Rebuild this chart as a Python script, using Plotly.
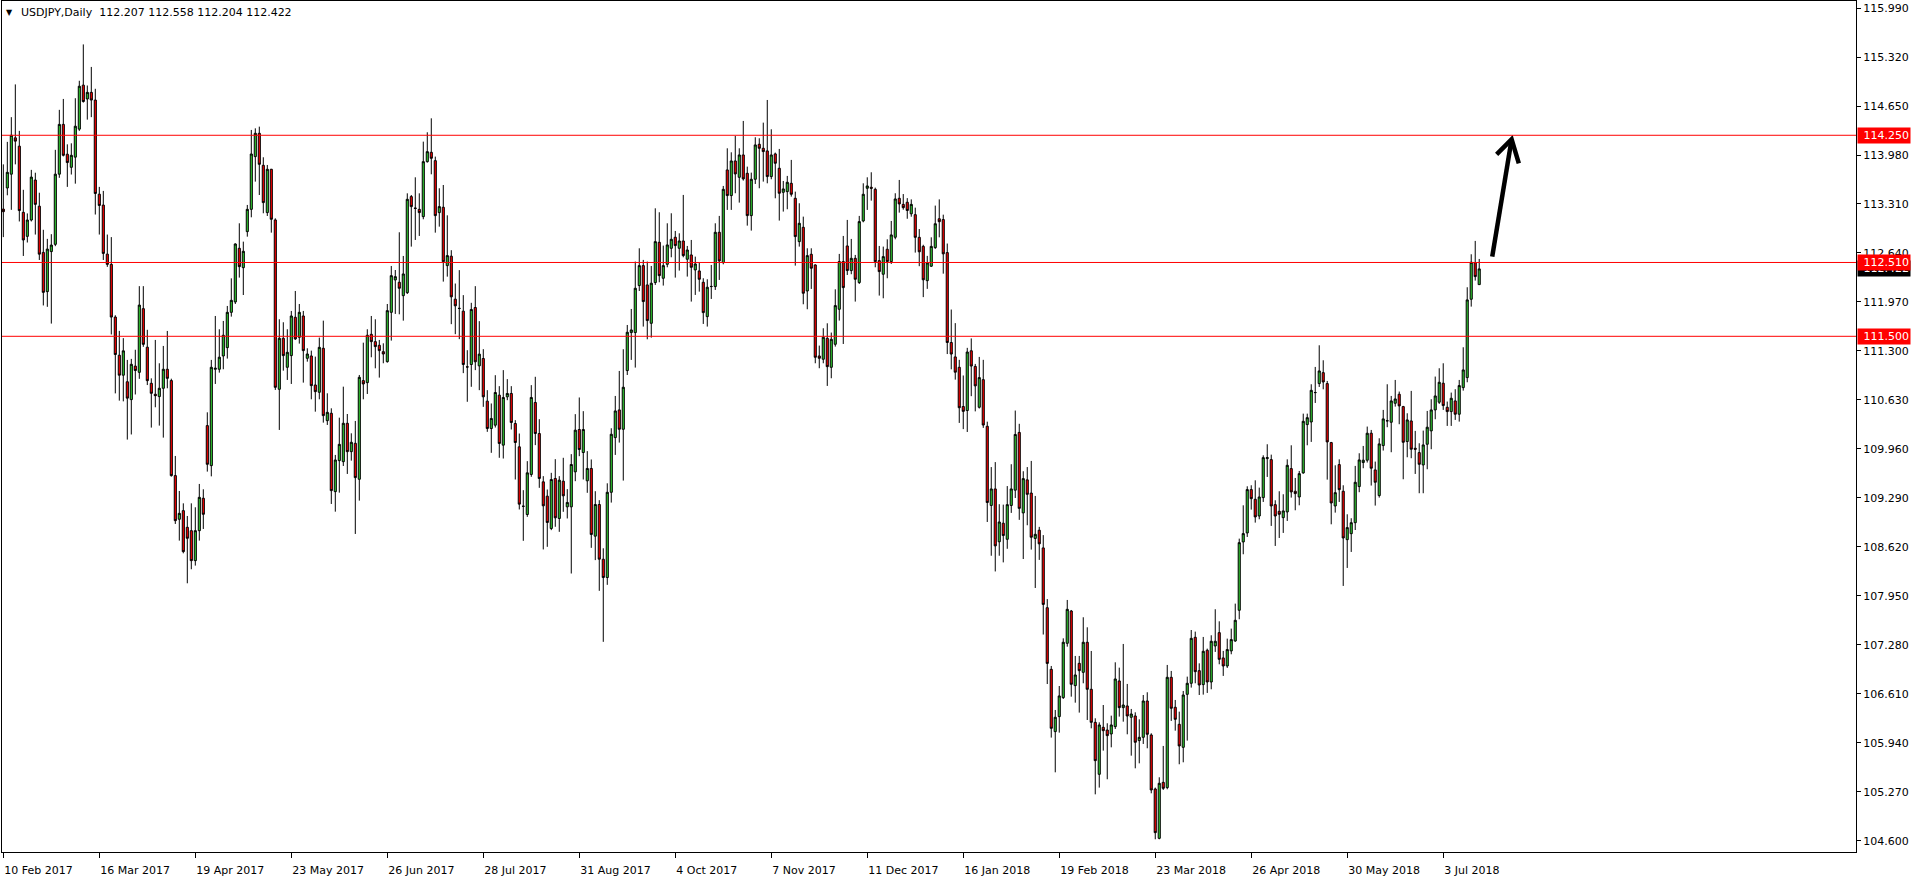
import plotly.graph_objects as go

# ---------------- data ----------------
open_ = [113.240,113.529,113.718,114.215,114.101,113.196,112.867,113.091,113.638,113.280,
112.648,112.111,112.659,112.758,113.718,114.399,113.991,113.812,113.951,114.334,
114.936,114.747,114.837,114.732,113.444,113.295,112.624,112.484,111.763,111.241,
110.968,110.878,110.634,111.092,111.007,111.878,111.351,110.857,110.707,110.675,
110.789,111.049,110.894,109.594,108.997,109.115,108.887,108.841,108.431,108.841,
109.284,110.278,109.731,111.049,111.049,111.231,111.345,111.828,111.970,112.704,
112.439,112.932,113.237,113.958,114.277,113.839,113.192,113.785,113.092,110.775,
111.473,111.076,111.236,111.760,111.486,111.778,111.199,111.231,110.834,110.734,
111.336,110.346,110.447,109.375,109.799,109.785,110.310,109.922,110.036,109.544,
110.894,110.866,111.527,111.427,111.377,111.290,111.153,111.828,112.271,112.239,
112.056,112.097,113.411,113.255,113.237,113.137,113.889,114.017,113.903,113.192,
113.265,112.467,112.596,112.008,111.880,111.844,111.082,111.114,111.894,111.096,
111.196,110.613,110.239,110.284,110.695,110.011,110.672,110.718,110.307,109.988,
109.176,109.062,109.610,110.595,110.170,109.509,109.313,108.871,109.555,109.008,
109.518,109.167,109.167,109.646,110.225,109.910,109.523,109.692,108.766,109.199,
108.450,108.200,109.366,110.114,110.493,110.228,111.031,111.551,111.551,112.194,
112.467,112.203,111.678,112.235,112.786,112.294,112.485,112.704,112.855,112.704,
112.804,112.554,112.613,112.408,112.394,112.239,111.769,112.180,112.180,112.923,
112.508,113.776,113.425,113.899,113.675,113.981,113.730,113.151,113.648,114.127,
114.072,114.036,113.685,113.995,113.799,113.470,113.479,113.593,113.388,112.795,
112.991,112.120,112.622,112.476,111.231,111.186,111.473,111.076,111.391,111.870,
112.522,112.736,112.399,112.567,112.235,113.078,113.525,113.539,113.511,112.535,
112.349,112.691,112.522,112.855,113.388,113.305,113.334,113.176,113.164,112.854,
112.730,112.261,112.459,112.713,113.108,113.097,112.645,111.415,111.218,111.076,
110.540,110.484,111.302,111.088,110.529,110.907,110.269,109.186,109.412,108.689,
108.943,108.723,109.186,109.395,110.185,109.084,109.536,109.355,108.735,108.847,
108.605,107.787,106.944,106.092,106.297,106.557,107.300,107.742,106.721,107.026,
106.903,107.314,106.671,106.219,105.508,106.151,106.114,106.060,106.160,106.785,
106.420,106.443,106.288,106.306,105.969,106.014,106.511,106.046,105.307,104.632,
105.398,105.326,106.835,106.425,106.192,105.877,106.602,106.753,107.382,106.926,
106.735,107.205,106.771,107.264,107.446,107.100,106.990,107.196,107.332,107.752,
108.687,108.810,109.403,109.270,109.042,109.293,109.827,109.813,109.197,109.106,
109.019,109.097,109.690,109.380,109.302,109.631,110.292,110.328,110.729,110.853,
111.003,110.853,110.046,109.179,109.745,109.380,108.718,108.800,108.950,109.444,
109.773,109.805,110.174,109.672,109.321,110.005,110.342,110.324,110.584,110.707,
110.538,110.060,110.342,109.968,109.909,109.740,110.023,110.206,110.493,110.598,
110.858,110.529,110.470,110.616,110.434,110.798,110.935,112.007,112.508,112.207]

high = [113.852,114.160,114.498,114.946,114.310,113.504,113.181,113.777,113.738,113.464,
112.957,112.833,112.897,114.051,114.598,114.747,114.126,114.140,114.757,114.996,
115.493,114.931,115.185,114.886,113.544,113.489,112.892,112.857,111.788,111.574,
111.475,111.177,111.191,111.316,112.186,112.186,111.589,110.925,111.450,111.131,
111.368,111.573,110.920,109.863,109.384,109.215,109.042,109.215,109.161,109.480,
109.407,110.460,111.177,111.778,111.596,111.710,111.915,112.293,112.772,113.046,
112.795,113.297,114.323,114.345,114.368,113.949,113.844,113.790,113.114,111.733,
111.692,111.596,111.847,112.120,111.942,111.847,111.336,111.304,111.222,111.482,
111.714,110.720,110.515,109.877,110.387,110.811,110.437,110.173,110.342,110.971,
111.413,111.596,111.778,111.733,111.450,111.404,111.942,112.462,112.407,112.923,
112.599,113.456,113.433,113.675,113.456,114.163,114.291,114.482,113.958,113.525,
113.570,113.155,112.678,112.222,112.405,112.063,111.310,111.958,112.186,111.707,
111.324,110.763,110.581,110.968,110.818,111.037,110.914,110.818,110.353,110.170,
109.395,109.792,110.832,110.946,110.366,109.587,109.404,109.632,109.819,109.587,
109.838,109.409,109.888,110.435,110.663,110.476,109.929,109.815,109.381,109.258,
108.600,109.489,110.242,110.684,111.026,111.323,111.655,111.874,112.522,112.704,
112.545,112.522,112.462,113.251,113.197,112.741,113.046,113.183,112.941,112.909,
113.434,112.736,112.818,112.590,112.508,112.294,112.280,112.476,113.046,113.147,
113.557,114.072,114.017,114.241,114.072,114.446,113.821,113.739,114.223,114.209,
114.423,114.733,114.332,114.013,114.063,113.625,113.694,113.913,113.479,113.320,
113.137,112.704,112.704,112.485,111.373,111.610,111.678,111.551,112.143,112.627,
112.873,113.092,112.832,112.613,113.147,113.593,113.675,113.744,113.534,112.736,
112.727,112.827,113.078,113.457,113.639,113.446,113.390,113.373,113.260,112.967,
112.752,112.600,112.854,113.288,113.373,113.164,112.769,111.866,111.680,111.178,
110.964,111.342,111.471,111.122,111.218,111.178,110.332,109.711,109.779,109.203,
109.197,109.451,109.750,110.484,110.303,109.654,109.711,109.795,109.316,108.893,
108.780,107.905,106.990,106.388,106.716,107.368,107.893,107.756,107.127,107.127,
107.656,107.519,107.195,106.274,106.219,106.456,106.206,106.310,107.040,106.967,
107.291,106.744,106.402,106.356,106.260,106.593,106.630,106.069,105.326,105.467,
105.896,107.004,106.922,106.525,106.365,106.648,106.844,107.482,107.460,107.026,
107.387,107.227,107.410,107.766,107.601,107.196,107.364,107.501,107.843,108.732,
109.188,109.448,109.462,109.530,109.430,109.872,110.023,109.881,109.257,109.380,
109.339,109.817,110.009,109.562,109.658,110.442,110.442,110.844,111.081,111.377,
111.172,110.889,110.055,109.735,109.817,109.462,109.065,109.011,109.727,109.900,
110.000,110.265,110.219,109.786,110.105,110.493,110.844,110.684,110.903,110.744,
110.548,110.447,110.753,110.206,110.037,110.210,110.479,110.639,110.949,111.063,
111.131,110.607,110.730,110.776,110.903,111.350,112.171,112.622,112.805,112.558]

low = [112.857,113.429,113.230,113.852,113.071,112.599,112.783,113.071,112.892,112.544,
111.922,111.903,111.674,112.733,113.668,113.961,113.544,113.713,113.588,114.310,
114.697,114.464,114.498,113.166,112.892,112.544,112.450,111.525,110.719,110.620,
110.610,110.087,110.157,110.704,110.918,111.356,110.833,110.251,110.529,110.278,
110.114,110.789,109.580,108.933,108.705,108.531,108.121,108.313,108.363,108.705,
108.864,109.649,109.584,110.848,111.003,111.049,111.195,111.769,111.942,112.303,
112.065,112.863,113.128,113.616,113.433,113.183,113.146,112.918,110.766,110.219,
111.030,110.903,110.848,111.450,111.400,110.866,111.153,110.638,110.469,110.638,
110.319,110.287,109.206,109.101,109.361,109.726,109.617,109.799,108.796,109.252,
110.638,110.711,111.213,111.062,110.935,111.131,111.140,111.441,111.806,111.801,
111.714,112.079,112.727,112.818,112.873,113.101,113.876,113.716,112.918,113.000,
112.248,112.316,111.666,111.529,111.461,110.996,110.604,110.809,111.037,110.763,
110.535,110.193,109.906,110.252,109.838,109.828,110.626,110.225,109.541,109.131,
108.702,109.030,109.578,110.011,109.427,108.584,108.620,108.848,108.894,108.825,
109.099,109.008,108.255,109.518,109.860,109.541,109.359,108.606,108.438,108.018,
107.320,108.100,109.225,109.877,110.046,109.526,110.971,111.177,111.072,112.120,
111.633,111.459,111.482,112.203,112.239,112.194,112.444,112.581,112.303,112.399,
112.581,112.317,111.975,112.066,112.111,111.669,111.633,112.011,112.134,112.271,
112.485,113.229,113.229,113.457,113.329,113.630,113.014,112.946,113.584,113.525,
113.616,113.593,113.648,113.388,113.083,113.206,113.238,113.411,112.467,112.727,
111.938,111.870,112.148,111.131,111.063,111.131,110.821,110.926,111.359,111.715,
111.395,112.339,112.349,111.975,112.216,113.060,113.229,113.356,112.444,112.057,
112.020,112.294,112.490,112.827,113.192,113.232,113.108,113.136,112.645,112.459,
112.036,112.149,112.448,112.696,112.854,112.357,111.257,111.048,110.907,110.315,
110.230,110.191,110.681,110.473,110.512,110.247,108.960,108.498,108.283,108.498,
108.407,108.593,109.084,109.288,108.989,108.453,108.915,108.582,108.057,108.441,
107.420,106.743,106.010,105.535,106.078,106.539,107.254,106.570,106.488,106.352,
106.753,106.251,106.137,105.234,105.326,105.832,105.440,105.877,106.128,106.297,
106.228,106.055,105.763,105.590,105.658,105.923,105.864,105.248,104.619,104.619,
105.294,105.303,106.238,106.105,105.645,105.672,105.969,106.694,106.753,106.593,
106.598,106.621,106.671,107.182,107.013,106.854,106.963,107.150,107.320,107.629,
108.518,108.755,109.129,108.951,108.997,109.234,109.576,108.906,108.632,108.741,
108.810,108.974,109.293,109.120,109.188,109.620,110.009,110.055,110.588,110.807,
110.775,109.539,108.928,109.088,109.234,108.085,108.331,108.550,108.850,109.367,
109.695,109.773,109.458,109.184,109.293,109.937,110.256,109.914,110.538,110.297,
109.544,109.845,109.832,109.617,109.353,109.353,109.681,109.955,110.365,110.575,
110.493,110.274,110.274,110.356,110.333,110.757,110.871,111.906,112.262,112.204]

close = [113.205,113.743,114.250,114.170,113.220,112.818,113.091,113.678,113.305,112.624,
112.101,112.693,112.748,113.718,114.399,113.976,113.877,113.976,114.374,114.921,
114.712,114.837,114.732,113.454,113.290,112.634,112.484,111.763,111.251,110.968,
111.301,110.654,111.117,111.032,111.927,111.390,110.893,110.720,110.688,110.789,
111.049,110.925,109.594,108.978,109.078,108.554,108.737,108.431,108.841,109.297,
109.065,109.749,111.076,111.062,111.214,111.514,111.828,111.992,112.763,112.453,
112.663,113.237,113.994,114.277,113.853,113.329,113.785,113.101,110.802,111.473,
111.236,111.281,111.778,111.464,111.828,111.304,111.258,110.825,110.743,111.349,
110.415,110.460,109.389,109.808,110.022,110.310,109.922,110.050,109.567,110.939,
110.848,111.514,111.427,111.359,111.304,111.258,111.851,112.330,112.316,112.157,
112.353,113.374,113.274,113.250,113.192,113.889,114.026,113.935,113.151,113.274,
112.521,112.604,112.040,111.917,111.882,111.114,111.080,111.867,111.151,111.256,
110.672,110.239,110.376,110.731,110.034,110.663,110.718,110.321,110.047,109.204,
109.174,109.632,110.663,110.170,109.555,109.181,108.953,109.541,109.017,109.532,
109.318,109.227,109.746,110.216,109.951,110.225,109.692,108.789,109.199,108.451,
108.200,109.366,110.160,110.479,110.228,110.803,111.555,111.587,112.157,112.467,
111.975,111.715,112.226,112.795,112.330,112.467,112.750,112.827,112.741,112.804,
112.604,112.681,112.444,112.490,112.280,111.824,112.171,112.182,112.923,112.531,
113.511,113.425,113.899,113.721,113.981,113.653,113.151,113.648,114.118,114.072,
114.027,113.685,113.981,113.867,113.457,113.516,113.607,113.443,112.864,113.046,
112.089,112.604,112.431,111.213,111.199,111.487,111.085,111.459,111.920,112.522,
112.166,112.399,112.567,112.280,113.069,113.443,113.557,113.525,112.522,112.385,
112.590,112.522,112.887,113.379,113.311,113.260,113.221,113.305,112.854,112.656,
112.273,112.504,112.730,113.040,113.068,112.628,111.415,111.257,111.009,110.523,
110.473,111.285,111.093,110.822,110.935,110.286,109.226,109.412,108.633,108.960,
108.774,109.197,109.412,110.157,109.146,109.553,109.338,108.751,108.791,108.661,
107.832,107.025,106.137,106.288,106.580,107.314,107.765,106.739,106.867,106.926,
107.314,106.671,106.219,105.695,106.183,106.105,106.037,106.183,106.812,106.420,
106.456,106.306,106.333,105.946,106.014,106.511,106.055,105.294,104.710,105.385,
105.316,106.835,106.411,106.260,105.896,106.593,106.753,107.368,106.912,106.730,
107.191,106.771,107.328,107.328,107.081,106.990,107.214,107.351,107.615,108.677,
108.801,109.403,109.279,109.029,109.302,109.840,109.840,109.179,109.042,109.065,
109.111,109.735,109.371,109.348,109.621,110.337,110.387,110.761,110.731,111.026,
110.875,110.055,109.220,109.361,109.402,108.741,108.883,108.950,109.503,109.809,
109.805,110.174,109.695,109.503,110.028,110.370,110.345,110.616,110.643,110.548,
110.050,110.356,109.955,109.955,109.749,110.014,110.256,110.493,110.684,110.871,
110.552,110.470,110.652,110.434,110.826,111.040,111.998,112.513,112.317,112.422]

date_labels = ["10 Feb 2017", "16 Mar 2017", "19 Apr 2017", "23 May 2017",
               "26 Jun 2017", "28 Jul 2017", "31 Aug 2017", "4 Oct 2017",
               "7 Nov 2017", "11 Dec 2017", "16 Jan 2018", "19 Feb 2018",
               "23 Mar 2018", "26 Apr 2018", "30 May 2018", "3 Jul 2018"]
label_bar = [0, 24, 48, 72, 96, 120, 144, 168, 192, 216, 240, 264, 288, 312, 336, 360]

price_labels = ["115.990", "115.320", "114.650", "113.980", "113.310", "112.640",
                "111.970", "111.300", "110.630", "109.960", "109.290", "108.620",
                "107.950", "107.280", "106.610", "105.940", "105.270", "104.600"]

level_lines = [114.250, 112.510, 111.500]
last_ohlc = [112.207, 112.558, 112.204, 112.422]
symbol = "USDJPY,Daily"

# hand-drawn arrow (bar index, price)
arrow_x = [372.25, 377.1, None, 373.35, 377.1, 378.9]
arrow_y = [112.589, 114.195, None, 113.990, 114.195, 113.867]

# ---------------- figure ----------------
bars = list(range(len(open_)))
FONT = "DejaVu Sans"

fig = go.Figure()
fig.add_trace(go.Candlestick(
    x=bars, open=open_, high=high, low=low, close=close,
    increasing=dict(fillcolor="#32CD32", line=dict(color="#000000", width=1)),
    decreasing=dict(fillcolor="#FF0000", line=dict(color="#000000", width=1)),
    whiskerwidth=0, showlegend=False, hoverinfo="skip"))

fig.add_trace(go.Scatter(x=arrow_x, y=arrow_y, mode="lines",
                         line=dict(color="black", width=4.5),
                         showlegend=False, hoverinfo="skip"))

shapes = [dict(type="line", xref="paper", x0=0, x1=1, yref="y", y0=v, y1=v,
               line=dict(color="#FF0000", width=1), layer="above") for v in level_lines]

annotations = []
annotations.append(dict(xref="paper", x=1, xanchor="left", xshift=1, yref="y",
                        y=last_ohlc[3], yanchor="middle", text=f"{last_ohlc[3]:.3f}",
                        showarrow=False, bgcolor="#000000", width=50, height=13,
                        align="right", font=dict(family=FONT, size=11, color="white")))
for v in level_lines:
    annotations.append(dict(xref="paper", x=1, xanchor="left", xshift=1, yref="y",
                            y=v, yanchor="middle", text=f"{v:.3f}",
                            showarrow=False, bgcolor="#FF0000", width=50, height=13,
                            align="right", font=dict(family=FONT, size=11, color="white")))
annotations.append(dict(xref="paper", x=0, xanchor="left", xshift=2, yref="paper", y=1,
                        yanchor="middle", yshift=-11, text="▼", showarrow=False,
                        font=dict(family=FONT, size=8, color="black")))
annotations.append(dict(xref="paper", x=0, xanchor="left", xshift=17, yref="paper", y=1,
                        yanchor="middle", yshift=-11,
                        text=f"{symbol}  " + " ".join(f"{v:.3f}" for v in last_ohlc),
                        showarrow=False, font=dict(family=FONT, size=11, color="black")))

fig.update_layout(
    width=1916, height=884,
    margin=dict(l=2, r=60, t=1, b=32),
    paper_bgcolor="white", plot_bgcolor="white",
    boxgap=0.25,
    shapes=shapes, annotations=annotations,
    font=dict(family=FONT, size=11, color="black"),
    xaxis=dict(range=[-0.33, 463.2], rangeslider=dict(visible=False),
               tickmode="array", tickvals=label_bar, ticktext=date_labels,
               ticks="outside", ticklen=5, tickcolor="black",
               ticklabelposition="outside right", ticklabelstandoff=8,
               showline=True, mirror=True, linecolor="black", linewidth=1,
               showgrid=False, zeroline=False,
               tickfont=dict(family=FONT, size=11, color="black")),
    yaxis=dict(range=[104.445, 116.087], side="right",
               tickmode="array", tickvals=[float(s) for s in price_labels],
               ticktext=price_labels, ticks="outside", ticklen=4, tickcolor="black",
               showline=True, mirror=True, linecolor="black", linewidth=1,
               showgrid=False, zeroline=False,
               tickfont=dict(family=FONT, size=11, color="black")),
)

fig.write_html("out.html",
               config={"displayModeBar": False},
               post_script="document.body.style.margin='0px';document.body.style.overflow='hidden';")
